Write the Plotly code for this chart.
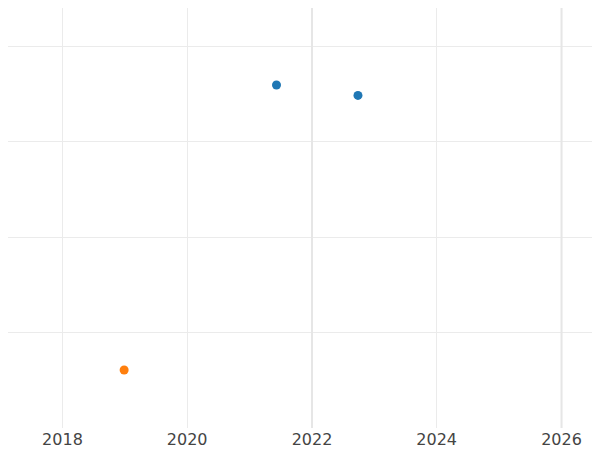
import plotly.graph_objects as go

dates_a = ["2021-06-07", "2022-09-27"]
vals_a = [3.6, 3.49]
dates_b = ["2018-12-28"]
vals_b = [0.6]
marker_lines = ["2022-01-01", "2026-01-01"]

fig = go.Figure()
fig.add_trace(go.Scatter(x=dates_a, y=vals_a, mode="markers", marker=dict(color="#1f77b4", size=9)))
fig.add_trace(go.Scatter(x=dates_b, y=vals_b, mode="markers", marker=dict(color="#ff7f0e", size=9)))
for d in marker_lines:
    fig.add_vline(x=d, line=dict(color="#e6e6e6", width=2))
fig.update_layout(
    width=600, height=450, showlegend=False,
    plot_bgcolor="white", paper_bgcolor="white",
    margin=dict(l=0, r=0, t=0, b=30),
    font=dict(family="DejaVu Sans", size=16, color="#444"),
)
fig.update_xaxes(type="date", range=["2017-02-16", "2026-09-30"], dtick="M24", tickformat="%Y",
                 showgrid=True, gridcolor="#ebebeb", zeroline=False, showline=False, ticks="")
fig.update_yaxes(range=[-0.01, 4.41], dtick=1, showticklabels=False, showgrid=True,
                 gridcolor="#ebebeb", zeroline=False)
fig.write_html("out.html")
